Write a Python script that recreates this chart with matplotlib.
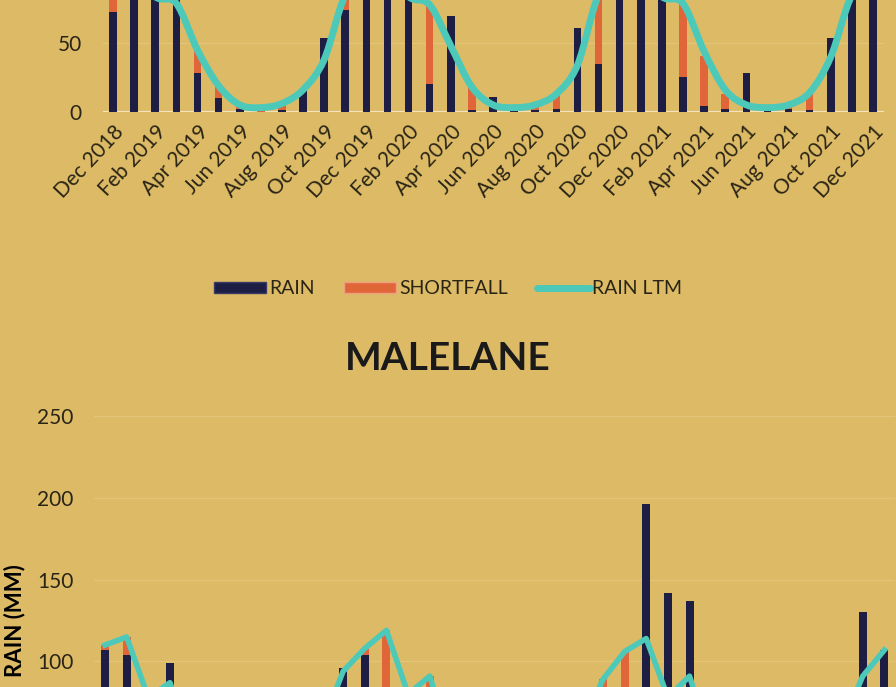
import matplotlib
matplotlib.use("Agg")
import matplotlib.pyplot as plt
from matplotlib.path import Path
from matplotlib.patches import PathPatch, Patch
from matplotlib.lines import Line2D

# ---- data ---------------------------------------------------------------
MONTHS = ["Dec 2018", "Jan 2019", "Feb 2019", "Mar 2019", "Apr 2019", "May 2019",
          "Jun 2019", "Jul 2019", "Aug 2019", "Sep 2019", "Oct 2019", "Nov 2019",
          "Dec 2019", "Jan 2020", "Feb 2020", "Mar 2020", "Apr 2020", "May 2020",
          "Jun 2020", "Jul 2020", "Aug 2020", "Sep 2020", "Oct 2020", "Nov 2020",
          "Dec 2020", "Jan 2021", "Feb 2021", "Mar 2021", "Apr 2021", "May 2021",
          "Jun 2021", "Jul 2021", "Aug 2021", "Sep 2021", "Oct 2021", "Nov 2021",
          "Dec 2021"]

# upper station (only its lower strip is in view)
top_rain = [73, 120, 105, 95, 28, 10, 2, 0, 1, 16, 54, 74,
            130, 115, 100, 20, 70, 1, 11, 2, 1, 2, 61, 35,
            125, 140, 110, 25, 4, 2, 28, 1, 2, 1, 54, 100, 120]
top_short = [22, 0, 0, 0, 17, 9, 3, 4, 5, 0, 0, 11,
             0, 0, 0, 58, 0, 17, 0, 1, 4, 11, 0, 50,
             0, 0, 0, 54, 37, 11, 0, 2, 3, 13, 0, 0, 0]
top_ltm = [95, 105, 84, 79, 45, 19, 5, 3, 6, 16, 38, 85,
           95, 105, 84, 78, 48, 18, 5, 3, 5, 13, 34, 85,
           95, 105, 84, 79, 44, 16, 5, 3, 5, 14, 40, 85, 95]

# MALELANE
mal_rain = [107, 104, 60, 99, 30, 12, 5, 3, 8, 20, 45, 96,
            104, 70, 55, 40, 22, 10, 4, 6, 2, 12, 50, 70,
            60, 196, 142, 137, 35, 15, 9, 5, 3, 20, 40, 130, 107]
mal_short = [3, 11, 18, 0, 20, 13, 10, 9, 7, 10, 15, 0,
             4, 49, 25, 51, 28, 15, 11, 6, 13, 18, 10, 19,
             46, 0, 0, 0, 15, 10, 6, 7, 12, 10, 20, 0, 0]
mal_ltm = [110, 115, 78, 87, 50, 25, 15, 12, 15, 30, 60, 94,
           108, 119, 80, 91, 50, 25, 15, 12, 15, 30, 60, 89,
           106, 114, 78, 91, 50, 25, 15, 12, 15, 30, 60, 91, 107]

BG = "#DDBB66"
NAVY = "#1E1E44"
ORANGE = "#E0663A"
TEAL = "#4DC9BA"
GRID = "#E3C478"
INK = "#2A2416"
FONT = ["Lato", "DejaVu Sans"]

plt.rcParams["font.family"] = FONT
plt.rcParams["text.color"] = INK


def smooth_path(xs, ys):
    """Catmull-Rom style cubic path through the points (Excel 'smoothed line')."""
    verts = [(xs[0], ys[0])]
    codes = [Path.MOVETO]
    n = len(xs)
    for i in range(n - 1):
        a = max(i - 1, 0)
        d = min(i + 2, n - 1)
        c1 = (xs[i] + (xs[i + 1] - xs[a]) / 6, ys[i] + (ys[i + 1] - ys[a]) / 6)
        c2 = (xs[i + 1] - (xs[d] - xs[i]) / 6, ys[i + 1] - (ys[d] - ys[i]) / 6)
        verts += [c1, c2, (xs[i + 1], ys[i + 1])]
        codes += [Path.CURVE4] * 3
    return Path(verts, codes)


def style_axes(ax):
    ax.set_facecolor(BG)
    for sp in ax.spines.values():
        sp.set_visible(False)
    ax.set_xlim(-0.5, len(MONTHS) - 0.5)
    ax.set_ylim(0, 250)
    ax.set_yticks(range(0, 251, 50))
    ax.tick_params(axis="y", length=0, pad=15, labelsize=15, labelcolor=INK)
    ax.yaxis.grid(True, color=GRID, lw=0.9, zorder=0)
    ax.set_axisbelow(True)


fig = plt.figure(figsize=(8.96, 6.87), dpi=100, facecolor=BG)
x = list(range(len(MONTHS)))

# ---- upper chart -------------------------------------------------------
ax1 = fig.add_axes([0.1144, 0.8374, 0.8717, 0.4985])
style_axes(ax1)
ax1.axhline(0, color="#F2E3BC", lw=1.6, zorder=1)
ax1.bar(x, top_rain, width=0.36, color=NAVY, zorder=2)
ax1.bar(x, top_short, width=0.36, bottom=top_rain, color=ORANGE, zorder=2)
ax1.add_patch(PathPatch(smooth_path(x, top_ltm), facecolor="none", edgecolor=TEAL,
                        lw=5, capstyle="round", joinstyle="round", zorder=3))
ax1.set_xticks(x[::2])
ax1.set_xticklabels(MONTHS[::2], rotation=47, ha="right", va="top",
                    rotation_mode="anchor", fontsize=15, color=INK)
ax1.tick_params(axis="x", length=0, pad=7)
ax1.set_ylabel("RAIN (MM)", fontsize=16, fontweight="bold")
ax1.yaxis.set_label_coords(-0.100, 0.5)

# legend of the upper chart
handles = [
    Patch(facecolor=NAVY, edgecolor="#3A3A66", label="RAIN"),
    Patch(facecolor=ORANGE, edgecolor="#F0A080", label="SHORTFALL"),
    Line2D([0], [0], color=TEAL, lw=5, solid_capstyle="round", label="RAIN LTM"),
]
fig.legend(handles=handles, loc="center", bbox_to_anchor=(0.5, 1 - 289 / 687),
           ncols=3, frameon=False, fontsize=14, handlelength=2.7,
           handleheight=0.55, handletextpad=0.15, columnspacing=1.5)

# ---- MALELANE ----------------------------------------------------------
fig.text(0.5, 1 - 358 / 687, "MALELANE", ha="center", va="center",
         fontsize=28, fontweight="bold", color="#1A1A1A")

ax2 = fig.add_axes([0.1051, -0.2009, 0.894, 0.5953])
style_axes(ax2)
ax2.bar(x, mal_rain, width=0.37, color=NAVY, zorder=2)
ax2.bar(x, mal_short, width=0.37, bottom=mal_rain, color=ORANGE, zorder=2)
ax2.plot(x, mal_ltm, color=TEAL, lw=4, solid_joinstyle="round", zorder=3)
ax2.set_xticks(x[::2])
ax2.set_xticklabels(MONTHS[::2], rotation=47, ha="right", rotation_mode="anchor")
ax2.tick_params(axis="x", length=0)
ax2.set_ylabel("RAIN (MM)", fontsize=16, fontweight="bold")
ax2.yaxis.set_label_coords(-0.086, 0.5)

fig.savefig("out.png", dpi=100, facecolor=BG)
